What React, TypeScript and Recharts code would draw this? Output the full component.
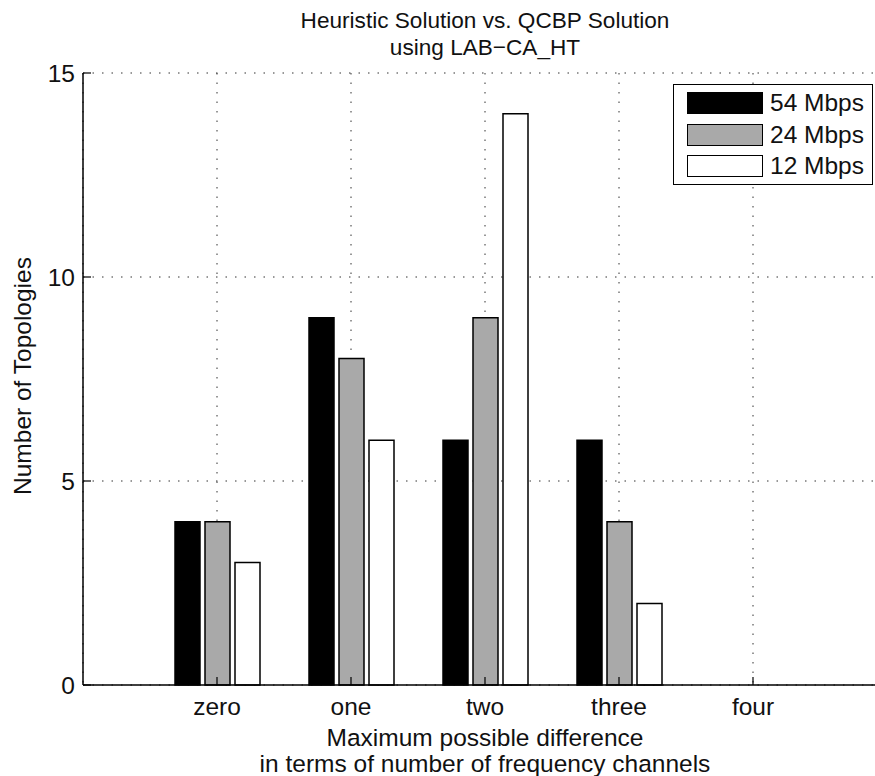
import React from "react";
import { BarChart, Bar, XAxis, YAxis, CartesianGrid, Legend } from "recharts";

const CATEGORIES = ["zero", "one", "two", "three", "four"];
const MBPS_54 = [4, 9, 6, 6, 0];
const MBPS_24 = [4, 8, 9, 4, 0];
const MBPS_12 = [3, 6, 14, 2, 0];
const Y_TICKS = [0, 5, 10, 15];

const SERIES = [
  { key: "s54", name: "54 Mbps", fill: "#000000" },
  { key: "s24", name: "24 Mbps", fill: "#a9a9a9" },
  { key: "s12", name: "12 Mbps", fill: "#ffffff" },
];

const FONT = '"Liberation Sans", Arial, Helvetica, sans-serif';
const tickStyle = { fill: "#111", fontSize: 24.5, fontFamily: FONT };

function LegendBox() {
  return (
    <div
      style={{
        width: 198,
        height: 99,
        border: "1.5px solid #000",
        background: "#fff",
        position: "relative",
        fontFamily: FONT,
        fontSize: 24.5,
        color: "#111",
      }}
    >
      {SERIES.map((s, i) => (
        <div key={s.key} style={{ position: "absolute", left: 13, top: 7 + i * 31.5, height: 22, display: "flex", alignItems: "center" }}>
          <div style={{ width: 74, height: 20, background: s.fill, border: "1.5px solid #000" }} />
          <span style={{ marginLeft: 7, lineHeight: "22px" }}>{s.name}</span>
        </div>
      ))}
    </div>
  );
}

export default function App() {
  const data = CATEGORIES.map((name, i) => ({
    name,
    s54: MBPS_54[i],
    s24: MBPS_24[i],
    s12: MBPS_12[i],
  }));

  return (
    <div style={{ position: "absolute", left: 0, top: 0, width: 875, height: 776, overflow: "hidden", background: "#fff" }}>
      <div
        style={{
          position: "absolute",
          left: 285,
          top: 6.7,
          width: 400,
          textAlign: "center",
          fontFamily: FONT,
          fontSize: 22.6,
          lineHeight: "27px",
          color: "#111",
        }}
      >
        Heuristic Solution vs. QCBP Solution
        <br />
        using LAB−CA_HT
      </div>

      <BarChart width={900} height={776} data={data} margin={{ top: 73, right: 13, bottom: 0, left: 0 }} barCategoryGap={25} barGap={5}>
        <CartesianGrid stroke="#333" strokeDasharray="1.5 8" />
        <XAxis
          dataKey="name"
          height={91}
          padding={{ left: 67, right: 67 }}
          interval={0}
          tickSize={-8}
          tickMargin={21}
          tick={tickStyle}
          axisLine={{ stroke: "#000", strokeWidth: 1.5 }}
          tickLine={{ stroke: "#000", strokeWidth: 1.2 }}
        />
        <XAxis
          xAxisId="top"
          orientation="top"
          dataKey="name"
          height={0}
          padding={{ left: 67, right: 67 }}
          interval={0}
          tickSize={-8}
          tick={false}
          axisLine={{ stroke: "#000", strokeWidth: 1.5 }}
          tickLine={{ stroke: "#000", strokeWidth: 1.2 }}
        />
        <YAxis
          type="number"
          domain={[0, 15]}
          ticks={Y_TICKS}
          width={83}
          tickSize={-8}
          tickMargin={16}
          tick={tickStyle}
          axisLine={{ stroke: "#000", strokeWidth: 1.5 }}
          tickLine={{ stroke: "#000", strokeWidth: 1.2 }}
        />
        <Legend
          layout="vertical"
          align="center"
          verticalAlign="middle"
          wrapperStyle={{ left: 673, top: 84 }}
          content={() => <LegendBox />}
        />
        {SERIES.map((s) => (
          <Bar key={s.key} dataKey={s.key} name={s.name} fill={s.fill} stroke="#000" strokeWidth={1.5} isAnimationActive={false} />
        ))}
      </BarChart>

      <div
        style={{
          position: "absolute",
          left: 23 - 150,
          top: 376 - 14,
          width: 300,
          height: 28,
          lineHeight: "28px",
          textAlign: "center",
          transform: "rotate(-90deg)",
          fontFamily: FONT,
          fontSize: 24.5,
          color: "#111",
        }}
      >
        Number of Topologies
      </div>

      <div
        style={{
          position: "absolute",
          left: 235,
          top: 724.5,
          width: 500,
          textAlign: "center",
          fontFamily: FONT,
          fontSize: 24.5,
          lineHeight: "26px",
          color: "#111",
        }}
      >
        Maximum possible difference
        <br />
        in terms of number of frequency channels
      </div>
    </div>
  );
}
